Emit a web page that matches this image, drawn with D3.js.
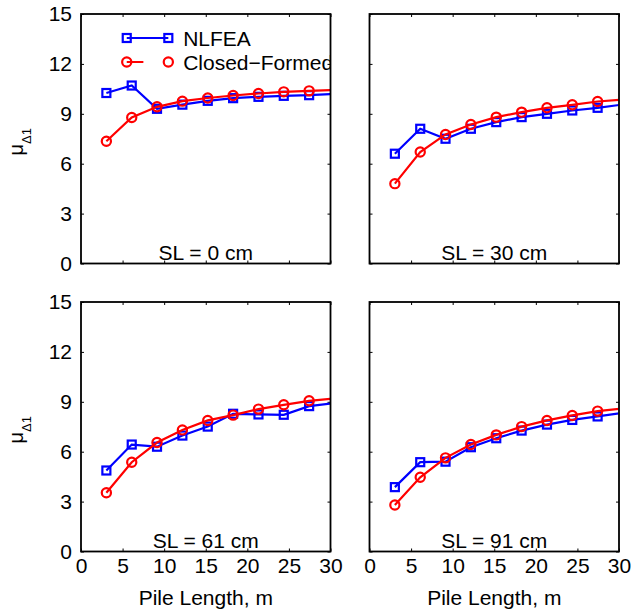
<!DOCTYPE html>
<html><head><meta charset="utf-8">
<script src="https://cdn.jsdelivr.net/npm/d3@7"></script>
<style>
body{margin:0;background:#fff}
svg text{font-family:"Liberation Sans",Arial,Helvetica,sans-serif;fill:#000}
</style>
</head><body>
<svg id="chart" width="631" height="615"></svg>
<script>
// ---- data ----
const pileLength = [3.05, 6.10, 9.14, 12.19, 15.24, 18.29, 21.34, 24.38, 27.43, 30.48];
const panelTitles = ["SL = 0 cm", "SL = 30 cm", "SL = 61 cm", "SL = 91 cm"];
const seriesNames = ["NLFEA", "Closed\u2212Formed"];
const xTicks = [0, 5, 10, 15, 20, 25, 30];
const yTicks = [0, 3, 6, 9, 12, 15];

const nlfea0  = [10.25, 10.70, 9.30, 9.55, 9.78, 9.94, 10.02, 10.08, 10.12, 10.20];
const closed0 = [7.35, 8.78, 9.42, 9.76, 9.95, 10.10, 10.22, 10.32, 10.38, 10.44];
const nlfea1  = [6.60, 8.10, 7.50, 8.10, 8.50, 8.80, 9.00, 9.20, 9.36, 9.56];
const closed1 = [4.80, 6.70, 7.76, 8.36, 8.80, 9.10, 9.36, 9.54, 9.74, 9.86];
const nlfea2  = [4.87, 6.43, 6.30, 6.97, 7.51, 8.28, 8.24, 8.22, 8.74, 8.92];
const closed2 = [3.53, 5.37, 6.55, 7.31, 7.88, 8.20, 8.56, 8.82, 9.06, 9.20];
const nlfea3  = [3.87, 5.37, 5.40, 6.27, 6.81, 7.27, 7.63, 7.91, 8.12, 8.34];
const closed3 = [2.80, 4.46, 5.63, 6.43, 7.01, 7.51, 7.88, 8.18, 8.44, 8.60];

const nlfeaSets = [nlfea0, nlfea1, nlfea2, nlfea3];
const closedSets = [closed0, closed1, closed2, closed3];

// ---- layout ----
const FS = 21;
const colLeft = [81, 369.5];
const rowTop = [14, 302];
const W = 249.5, H = 249.5;
const BLUE = "#0000ff", RED = "#ff0000";
const LW = 2.2;
const nMarkers = 9;

const svg = d3.select("#chart");
const x = d3.scaleLinear().domain([0, 30]).range([0, W]);
const y = d3.scaleLinear().domain([0, 15]).range([H, 0]);

panelTitles.forEach((title, i) => {
  const col = i % 2, row = Math.floor(i / 2);
  const g = svg.append("g").attr("transform", `translate(${colLeft[col]},${rowTop[row]})`);
  const clipId = "clip" + i;
  g.append("clipPath").attr("id", clipId).append("rect")
    .attr("x", 0).attr("y", 0).attr("width", W - 0.5).attr("height", H);

  // axes (inward ticks)
  const bottom = d3.axisBottom(x).tickValues(xTicks).tickSizeInner(-3).tickSizeOuter(0).tickPadding(7);
  const left = d3.axisLeft(y).tickValues(yTicks).tickSizeInner(-3).tickSizeOuter(0).tickPadding(9);
  const top = d3.axisTop(x).tickValues(xTicks).tickSizeInner(-3).tickSizeOuter(0).tickFormat("");
  const right = d3.axisRight(y).tickValues(yTicks).tickSizeInner(-3).tickSizeOuter(0).tickFormat("");
  if (row === 0) bottom.tickFormat("");
  if (col === 1) left.tickFormat("");

  const axes = [
    g.append("g").attr("transform", `translate(0,${H})`).call(bottom),
    g.append("g").call(left),
    g.append("g").call(top),
    g.append("g").attr("transform", `translate(${W},0)`).call(right)
  ];
  axes.forEach(a => {
    a.select(".domain").remove();
    a.selectAll(".tick line").attr("stroke", "#000").attr("stroke-width", 1);
    a.selectAll(".tick text").attr("font-size", FS).attr("font-family", "Liberation Sans, Arial, sans-serif").attr("fill", "#000");
  });

  const plot = g.append("g").attr("clip-path", `url(#${clipId})`);
  const line = d3.line().x((d, k) => x(pileLength[k])).y(d => y(d));

  // NLFEA
  plot.append("path").datum(nlfeaSets[i]).attr("d", line)
    .attr("fill", "none").attr("stroke", BLUE).attr("stroke-width", LW);
  plot.selectAll(".sq").data(nlfeaSets[i].slice(0, nMarkers)).enter().append("rect")
    .attr("x", (d, k) => x(pileLength[k]) - 4).attr("y", d => y(d) - 4)
    .attr("width", 8).attr("height", 8)
    .attr("fill", "none").attr("stroke", BLUE).attr("stroke-width", LW);

  // Closed-Formed
  plot.append("path").datum(closedSets[i]).attr("d", line)
    .attr("fill", "none").attr("stroke", RED).attr("stroke-width", LW);
  plot.selectAll(".ci").data(closedSets[i].slice(0, nMarkers)).enter().append("circle")
    .attr("cx", (d, k) => x(pileLength[k])).attr("cy", d => y(d)).attr("r", 4.6)
    .attr("fill", "none").attr("stroke", RED).attr("stroke-width", LW);

  // panel title
  g.append("text").attr("x", W / 2).attr("y", H - 4).attr("text-anchor", "middle")
    .attr("font-size", FS).text(title);

  // frame
  g.append("rect").attr("x", 0).attr("y", 0).attr("width", W).attr("height", H)
    .attr("fill", "none").attr("stroke", "#000").attr("stroke-width", 1.8);

  // x label
  if (row === 1) {
    g.append("text").attr("x", W / 2).attr("y", H + 53).attr("text-anchor", "middle")
      .attr("font-size", FS).text("Pile Length, m");
  }
  // y label
  if (col === 0) {
    const t = g.append("text")
      .attr("transform", `translate(${23 - colLeft[0]},${H / 2 + 3}) rotate(-90)`)
      .attr("text-anchor", "middle").attr("font-size", 20);
    t.append("tspan").text("\u03bc");
    t.append("tspan").attr("font-size", 13).attr("dy", 8).text("\u03941");
  }

  // legend (top-left panel only, clipped to the axes)
  if (i === 0) {
    const lg = plot.append("g");
    const lx0 = x(5.5), lx1 = x(10.5), tx = x(12.1) + 1.5;
    const ly = [38 - rowTop[0], 62 - rowTop[0]];
    // NLFEA entry
    lg.append("line").attr("x1", lx0).attr("x2", lx1).attr("y1", ly[0]).attr("y2", ly[0])
      .attr("stroke", BLUE).attr("stroke-width", LW);
    [lx0, lx1].forEach(px => lg.append("rect").attr("x", px - 4).attr("y", ly[0] - 4)
      .attr("width", 8).attr("height", 8).attr("fill", "none").attr("stroke", BLUE).attr("stroke-width", LW));
    lg.append("text").attr("x", tx).attr("y", ly[0] + 8).attr("font-size", FS).text(seriesNames[0]);
    // Closed-Formed entry
    lg.append("line").attr("x1", lx0).attr("x2", x(7.5)).attr("y1", ly[1]).attr("y2", ly[1])
      .attr("stroke", RED).attr("stroke-width", LW);
    [lx0, lx1].forEach(px => lg.append("circle").attr("cx", px).attr("cy", ly[1]).attr("r", 4.6)
      .attr("fill", "none").attr("stroke", RED).attr("stroke-width", LW));
    lg.append("text").attr("x", tx).attr("y", ly[1] + 8).attr("font-size", FS).text(seriesNames[1]);
  }
});
</script>
</body></html>
